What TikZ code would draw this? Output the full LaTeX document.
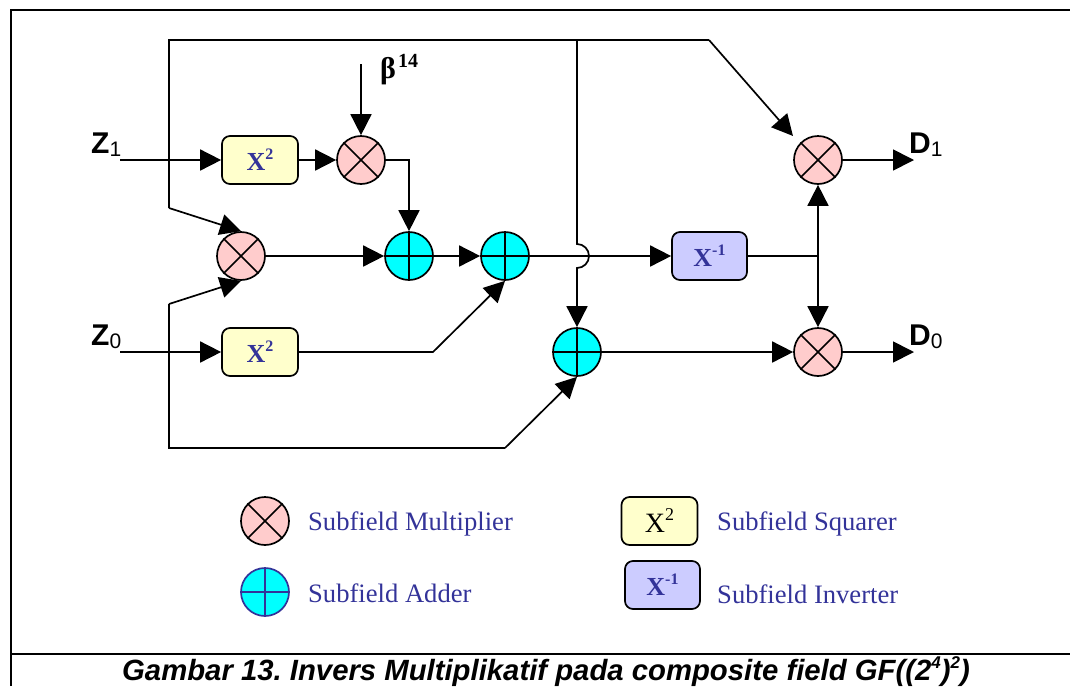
\documentclass[tikz,border=0pt]{standalone}
\usepackage{fontspec}
\setmainfont{Liberation Serif}
\newfontfamily\arialf{Liberation Sans}
\usetikzlibrary{arrows.meta}
\definecolor{lblue}{HTML}{333399}
\definecolor{mulc}{HTML}{FFCCCC}
\definecolor{addc}{HTML}{00FFFF}
\definecolor{sqc}{HTML}{FFFFCC}
\definecolor{invc}{HTML}{CCCCFF}
\newcommand{\fsz}[1]{\fontsize{#1}{#1}\selectfont}
\newcommand{\boxlab}[1]{{\fsz{26}X\raisebox{11pt}{\fsz{16}#1}}}
\tikzset{
  wire/.style={line width=1.7pt,black},
  arr/.style={wire,-{Triangle[length=21pt,width=21pt]}},
  mulnode/.style={circle,draw=black,line width=1.7pt,fill=mulc,minimum size=48pt,inner sep=0pt},
  addnode/.style={circle,draw=black,line width=1.7pt,fill=addc,minimum size=48pt,inner sep=0pt},
  sqnode/.style={rectangle,rounded corners=8pt,draw=black,line width=1.7pt,fill=sqc,minimum width=76pt,minimum height=48pt,inner sep=0pt,text=lblue,font=\bfseries},
  invnode/.style={rectangle,rounded corners=8pt,draw=black,line width=1.7pt,fill=invc,minimum width=75pt,minimum height=48pt,inner sep=0pt,text=lblue,font=\bfseries},
  siglab/.style={anchor=base west,inner sep=0pt,font=\arialf},
  leglab/.style={anchor=base west,inner sep=0pt,text=lblue,font=\fsz{26.6}},
  frameline/.style={line width=2pt,black}
}
\begin{document}
\begin{tikzpicture}[x=1pt,y=-1pt]
\useasboundingbox (0,0) rectangle (1070,686);
% frame
\coordinate (fa) at (11,686);
\coordinate (fb) at (11,10);
\coordinate (fc) at (1070,10);
\coordinate (fd) at (11,654);
\coordinate (fe) at (1070,654);
\draw[frameline] (fa) -- (fb) -- (fc);
\draw[frameline] (fd) -- (fe);
% nodes
\node[mulnode] (m1) at (361,160) {};
\node[mulnode] (m2) at (241,256) {};
\node[addnode] (a1) at (409,256) {};
\node[addnode] (a2) at (505,256) {};
\node[addnode] (a3) at (577,352) {};
\node[mulnode] (m3) at (818,160) {};
\node[mulnode] (m4) at (818,352) {};
\node[sqnode] (s1) at (260,160) {\boxlab{2}};
\node[sqnode] (s2) at (260,352) {\boxlab{2}};
\node[invnode] (inv) at (709.5,256) {\boxlab{-1}};
% legend
\node[mulnode] (lm) at (265,521) {};
\node[addnode,draw=lblue] (la) at (265,592) {};
\node[sqnode,font=\normalfont,text=black] (ls) at (659.5,521) {{\fsz{28}X\raisebox{12pt}{\fsz{18}2}}};
\node[invnode] (li) at (662.5,585) {\boxlab{-1}};
\foreach \n in {m1,m2,m3,m4,lm}{
  \draw[wire] (\n.north west) -- (\n.south east);
  \draw[wire] (\n.north east) -- (\n.south west);
}
\foreach \n in {a1,a2,a3}{
  \draw[wire] (\n.north) -- (\n.south);
  \draw[wire] (\n.west) -- (\n.east);
}
\draw[wire,lblue] (la.north) -- (la.south);
\draw[wire,lblue] (la.west) -- (la.east);
% free ends and bends
\coordinate (z1s) at (120,160);
\coordinate (z0s) at (120,352);
\coordinate (bs) at (361,64);
\coordinate (d1e) at (914,160);
\coordinate (d0e) at (914,352);
\coordinate (tl) at (169,40);
\coordinate (tj) at (577,40);
\coordinate (tr) at (709,40);
\coordinate (m3t) at (793,136);
\coordinate (lu) at (169,208);
\coordinate (ld) at (169,304);
\coordinate (lb) at (169,448);
\coordinate (lbr) at (505,448);
\coordinate (s2b) at (433,352);
\coordinate (bus) at (818,256);
\coordinate (js) at (577,244);
% connectors
\draw[arr] (z1s) -- (s1.west);
\draw[arr] (z0s) -- (s2.west);
\draw[arr] (s1.east) -- (m1.west);
\draw[arr] (bs) -- (m1.north);
\draw[arr] (m1.east) -| (a1.north);
\draw[arr] (m2.east) -- (a1.west);
\draw[arr] (a1.east) -- (a2.west);
\draw[arr] (s2.east) -- (s2b) -- (a2.south);
\draw[arr] (lu) -- (m2.north);
\draw[arr] (ld) -- (m2.south);
\draw[arr] (tr) -- (m3t);
\draw[wire] (lu) -- (tl) -- (tr);
\draw[wire] (ld) -- (lb) -- (lbr);
\draw[arr] (lbr) -- (a3.south);
\draw[arr] (a2.east) -- (inv.west);
\draw[arr] (tj) -- (js) arc[start angle=90,end angle=-90,radius=12pt] -- (a3.north);
\draw[wire] (inv.east) -- (bus);
\draw[arr] (bus) -- (m3.south);
\draw[arr] (bus) -- (m4.north);
\draw[arr] (a3.east) -- (m4.west);
\draw[arr] (m3.east) -- (d1e);
\draw[arr] (m4.east) -- (d0e);
% labels
\node[siglab] (lz1) at (91,153) {{\fsz{30}\bfseries Z}{\fsz{21}\raisebox{-3pt}{1}}};
\node[siglab] (lz0) at (91,345) {{\fsz{30}\bfseries Z}{\fsz{21}\raisebox{-3pt}{0}}};
\node[siglab] (ld1) at (909,153) {{\fsz{30}\bfseries D}{\fsz{21}\raisebox{-3pt}{1}}};
\node[siglab] (ld0) at (909,345) {{\fsz{30}\bfseries D}{\fsz{21}\raisebox{-3pt}{0}}};
\node[anchor=base west,inner sep=0pt,font=\bfseries] (lbeta) at (380,78) {{\fsz{30}β}\kern2pt\raisebox{11pt}{\fsz{20}14}};
\node[leglab] (t1) at (308,530) {Subfield Multiplier};
\node[leglab] (t2) at (308,602) {Subfield Adder};
\node[leglab] (t3) at (717,530) {Subfield Squarer};
\node[leglab] (t4) at (717,603) {Subfield Inverter};
\node[anchor=base,inner sep=0pt,font={\arialf\bfseries\itshape\fsz{29.3}\frenchspacing}] (cap) at (546,680) {Gambar 13. Invers Multiplikatif pada composite field GF((2\raisebox{12pt}{\fsz{17}4})\raisebox{12pt}{\fsz{17}2})};
\end{tikzpicture}
\end{document}
